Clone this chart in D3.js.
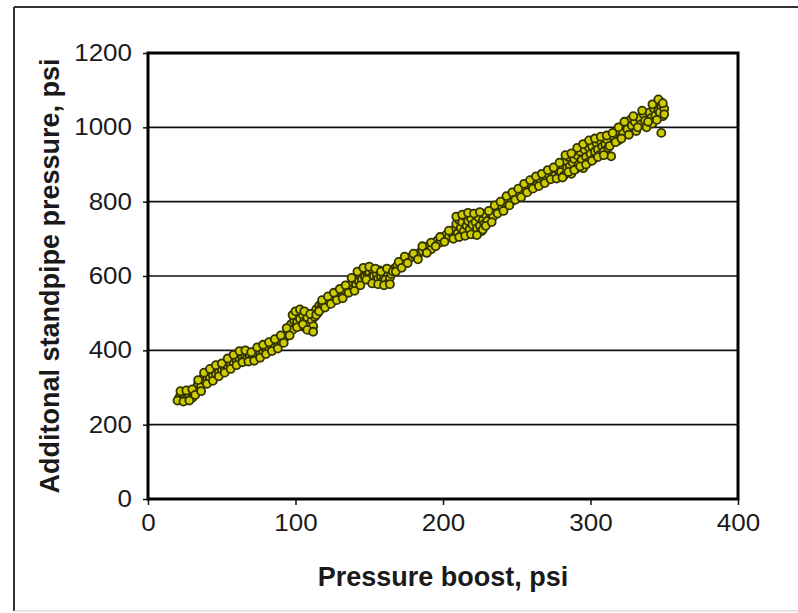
<!DOCTYPE html>
<html><head><meta charset="utf-8">
<script src="https://cdn.jsdelivr.net/npm/d3@7"></script>
<style>body{margin:0;background:#fff}svg{display:block}</style>
</head><body>
<script>
// Data: pressure boost (psi) vs additional standpipe pressure (psi)
const boost = [
21,22,23,24,25,26,27,28,29,30,31,32,
33,34,35,36,37,38,39,40,41,42,43,44,45,46,47,48,49,50,
51,52,53,54,55,56,57,58,59,60,61,62,63,64,65,66,67,68,69,70,
71,72,73,74,75,76,77,78,79,80,81,82,83,84,85,86,87,88,89,90,
93,95,96,97,98,99,100,101,102,103,104,105,106,107,108,109,110,111,112,113,
114,115,116,117,118,119,120,122,124,126,128,130,132,134,
136,138,139,140,141,142,143,144,145,146,147,148,149,150,151,152,153,154,155,156,157,158,159,160,161,162,163,164,165,
167,169,171,173,175,178,181,184,
186,188,190,192,194,196,198,200,202,204,206,
208,209,210,211,212,213,214,215,216,217,218,219,220,221,222,223,224,225,226,227,228,229,230,232,234,
236,238,240,242,244,246,248,250,252,254,256,258,260,262,264,266,268,270,272,274,276,278,
280,281,282,283,284,285,286,287,288,289,290,291,292,293,294,295,296,297,298,299,300,301,302,303,304,305,306,307,308,309,310,311,312,
314,316,318,319,320,322,324,325,327,328,330,331,333,334,336,337,338,340,341,342,343,344,345,346,347,348,349,348,347,350,
20,22,24,26,28,30,32,34,36,38,40,42,44,46,48,50,52,54,56,58,60,62,64,66,68,70,72,74,76,78,80,82,84,86,88,90,
92,94,96,98,100,101,103,105,106,108,110,112,114,116,118,120,122,124,126,128,130,132,134,136,138,140,142,144,146,148,
150,152,154,156,158,160,162,164,166,168,170,172,174,176,180,183,186,189,192,195,198,201,204,207,209,211,213,215,217,
219,221,223,225,227,229,231,233,235,237,239,241,243,245,247,249,251,253,255,257,259,261,263,265,267,269,271,273,275,
277,279,281,283,285,287,289,291,293,295,297,299,301,303,305,307,309,311,313,315,317,319,321,323,326,329,332,335,339,
342,345,346,349,350
];
const standpipe = [
272,278,268,282,275,270,285,278,290,272,283,295,
300,310,318,305,322,330,316,328,335,325,340,332,345,338,350,342,355,348,
360,352,365,358,370,362,375,368,380,372,385,376,390,380,372,386,378,392,383,375,
388,380,395,385,400,390,405,395,410,400,415,405,418,410,420,412,425,418,430,425,
435,445,460,470,455,480,490,475,500,485,465,495,478,460,488,470,455,480,465,490,
510,500,520,512,525,518,530,525,540,535,548,552,545,560,
570,580,565,590,575,598,585,605,590,612,598,620,603,610,595,618,600,585,605,592,615,598,585,600,590,610,582,595,605,
620,628,632,640,645,650,655,662,
668,675,680,672,688,695,690,702,710,705,715,
725,740,715,750,730,745,720,760,735,748,725,755,738,712,745,728,758,735,720,750,740,765,748,770,760,
780,790,785,798,805,800,815,822,818,830,838,832,845,852,846,858,865,860,872,878,870,885,
880,900,870,910,890,920,895,875,905,915,888,925,900,935,912,890,940,920,905,945,928,950,915,935,958,940,925,962,948,935,955,968,945,
922,975,990,965,1000,985,1010,995,1020,1005,1015,990,1025,1008,1035,1018,1000,1040,1025,1010,1050,1032,1060,1045,1070,1055,1030,985,1040,1050,
265,290,262,292,265,295,280,320,290,340,310,350,318,360,330,365,340,378,350,388,360,398,368,400,370,395,372,408,380,415,390,422,398,430,405,440,
420,460,440,495,505,462,510,470,505,455,498,450,495,505,535,515,545,525,555,535,565,540,575,555,595,560,612,575,622,590,
625,580,620,578,612,575,620,578,612,612,638,622,652,635,660,645,680,662,690,680,705,692,722,700,760,705,765,708,770,
712,768,710,772,725,735,775,745,790,768,800,775,815,790,825,805,835,812,848,825,858,835,868,842,875,850,885,860,892,
862,905,865,925,880,930,885,945,895,955,900,965,910,970,920,975,925,978,950,985,960,1000,970,1015,980,1030,1000,1045,1015,
1062,1020,1075,1065,1035
];
const xTicks = [0,100,200,300,400];
const yTicks = [0,200,400,600,800,1000,1200];
const xTitle = "Pressure boost, psi";
const yTitle = "Additonal standpipe pressure, psi";

const W = 798, H = 613;
const svg = d3.select("body").append("svg").attr("width", W).attr("height", H);

// outer frame
svg.append("line").attr("x1",14).attr("x2",W).attr("y1",7).attr("y2",7).attr("stroke","#333").attr("stroke-width",2);
svg.append("line").attr("x1",14).attr("x2",14).attr("y1",7).attr("y2",611).attr("stroke","#333").attr("stroke-width",2);
svg.append("line").attr("x1",14).attr("x2",W).attr("y1",611).attr("y2",611).attr("stroke","#ccc").attr("stroke-width",1);

const L = 148, R = 738, T = 53, B = 499;
const x = d3.scaleLinear().domain([0,400]).range([L,R]);
const y = d3.scaleLinear().domain([0,1200]).range([B,T]);

// gridlines
svg.append("g").selectAll("line").data(yTicks.filter(v=>v>0&&v<1200)).join("line")
  .attr("x1",L).attr("x2",R).attr("y1",d=>y(d)).attr("y2",d=>y(d))
  .attr("stroke","#111").attr("stroke-width",1.6);

// axes
const font = "'Liberation Sans', Arial, sans-serif";
const ya = svg.append("g").attr("transform",`translate(${L},0)`)
  .call(d3.axisLeft(y).tickValues(yTicks).tickFormat(d3.format("d")).tickSize(5).tickPadding(16).tickSizeOuter(0));
const xa = svg.append("g").attr("transform",`translate(0,${B})`)
  .call(d3.axisBottom(x).tickValues(xTicks).tickFormat(d3.format("d")).tickSize(6).tickPadding(10).tickSizeOuter(0));
[ya,xa].forEach(g=>{
  g.select(".domain").remove();
  g.selectAll(".tick line").attr("stroke","#111").attr("stroke-width",1.5);
  g.selectAll(".tick text").attr("fill","#1a1a1a").style("font-family",font).style("font-size","23px");
});
// reference tick labels are slightly wider: stretch horizontally
ya.selectAll(".tick text").attr("transform","translate(-20,0) scale(1.13,1) translate(20,0)")
  .attr("x",-16/1.13 - 20 + 20/1.13);
xa.selectAll(".tick text").attr("transform","scale(1.13,1)");

// points
svg.append("g").selectAll("circle").data(boost.map((b,i)=>[b,standpipe[i]])).join("circle")
  .attr("cx",d=>x(d[0])).attr("cy",d=>y(d[1])).attr("r",4)
  .attr("fill","#cccc00").attr("stroke","#333300").attr("stroke-width",1.8);

// plot border
svg.append("rect").attr("x",L).attr("y",T).attr("width",R-L).attr("height",B-T)
  .attr("fill","none").attr("stroke","#000").attr("stroke-width",3);

// titles
svg.append("text").attr("x",(L+R)/2).attr("y",586).attr("text-anchor","middle")
  .style("font-family",font).style("font-weight","bold").style("font-size","27px").attr("fill","#1a1a1a")
  .text(xTitle);
svg.append("text").attr("transform",`translate(59,${(T+B)/2}) rotate(-90)`).attr("text-anchor","middle")
  .style("font-family",font).style("font-weight","bold").style("font-size","27px").attr("fill","#1a1a1a")
  .text(yTitle);
</script>
</body></html>
